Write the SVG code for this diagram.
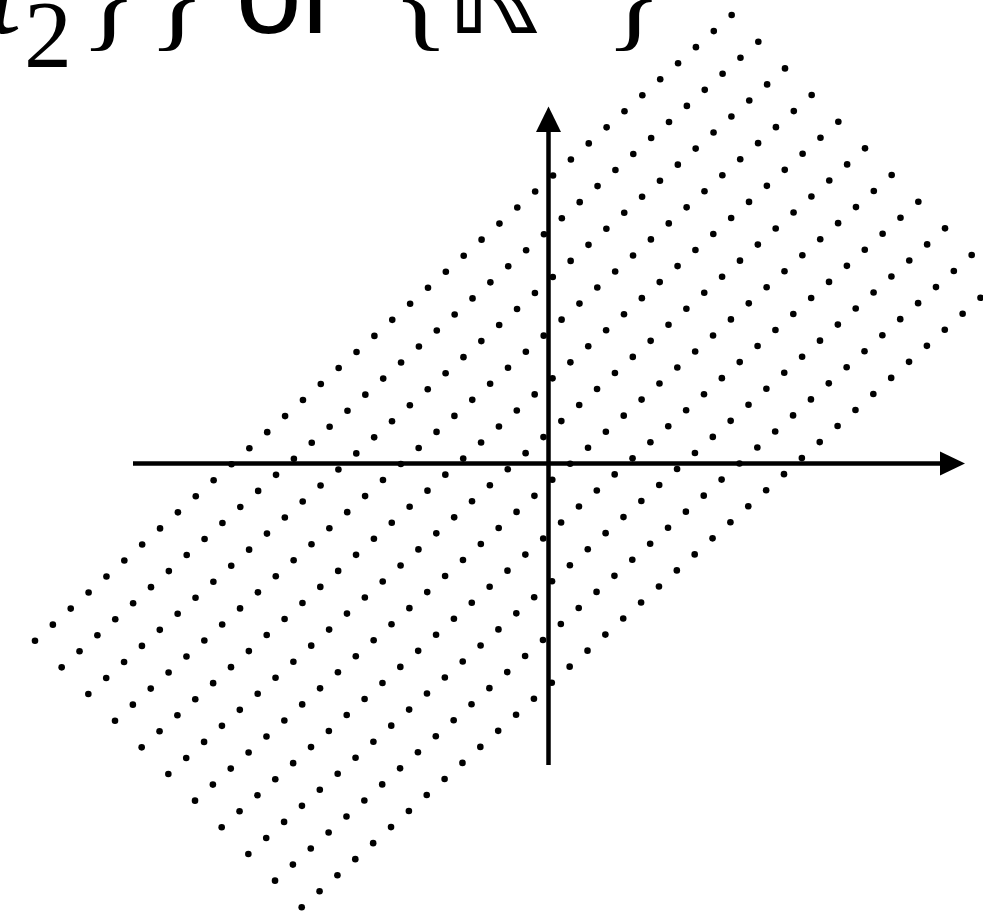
<svg xmlns="http://www.w3.org/2000/svg" xmlns:xlink="http://www.w3.org/1999/xlink" width="983" height="918" viewBox="0 0 983 918">
<style>
.axis{stroke:#000;stroke-width:4.5;fill:none}
.head{fill:#000;stroke:none}
.dot{fill:#000}
</style>
<defs>
<g id="row" class="dot">
<circle cx="35" cy="640.7" r="3.3"/><circle cx="52.86" cy="624.66" r="3.3"/><circle cx="70.73" cy="608.62" r="3.3"/><circle cx="88.59" cy="592.57" r="3.3"/><circle cx="106.45" cy="576.53" r="3.3"/><circle cx="124.32" cy="560.49" r="3.3"/><circle cx="142.18" cy="544.45" r="3.3"/><circle cx="160.04" cy="528.41" r="3.3"/><circle cx="177.9" cy="512.36" r="3.3"/><circle cx="195.77" cy="496.32" r="3.3"/><circle cx="213.63" cy="480.28" r="3.3"/><circle cx="231.49" cy="464.24" r="3.3"/><circle cx="249.36" cy="448.2" r="3.3"/><circle cx="267.22" cy="432.15" r="3.3"/><circle cx="285.08" cy="416.11" r="3.3"/><circle cx="302.95" cy="400.07" r="3.3"/><circle cx="320.81" cy="384.03" r="3.3"/><circle cx="338.67" cy="367.99" r="3.3"/><circle cx="356.53" cy="351.94" r="3.3"/><circle cx="374.4" cy="335.9" r="3.3"/><circle cx="392.26" cy="319.86" r="3.3"/><circle cx="410.12" cy="303.82" r="3.3"/><circle cx="427.99" cy="287.78" r="3.3"/><circle cx="445.85" cy="271.73" r="3.3"/><circle cx="463.71" cy="255.69" r="3.3"/><circle cx="481.58" cy="239.65" r="3.3"/><circle cx="499.44" cy="223.61" r="3.3"/><circle cx="517.3" cy="207.57" r="3.3"/><circle cx="535.16" cy="191.52" r="3.3"/><circle cx="553.03" cy="175.48" r="3.3"/><circle cx="570.89" cy="159.44" r="3.3"/><circle cx="588.75" cy="143.4" r="3.3"/><circle cx="606.62" cy="127.36" r="3.3"/><circle cx="624.48" cy="111.31" r="3.3"/><circle cx="642.34" cy="95.27" r="3.3"/><circle cx="660.21" cy="79.23" r="3.3"/><circle cx="678.07" cy="63.19" r="3.3"/><circle cx="695.93" cy="47.15" r="3.3"/><circle cx="713.79" cy="31.1" r="3.3"/><circle cx="731.66" cy="15.06" r="3.3"/>
</g>
</defs>
<g id="lattice">
<use xlink:href="#row" href="#row"/>
<use xlink:href="#row" href="#row" transform="translate(26.67 26.66)"/>
<use xlink:href="#row" href="#row" transform="translate(53.34 53.32)"/>
<use xlink:href="#row" href="#row" transform="translate(80.01 79.98)"/>
<use xlink:href="#row" href="#row" transform="translate(106.68 106.64)"/>
<use xlink:href="#row" href="#row" transform="translate(133.35 133.3)"/>
<use xlink:href="#row" href="#row" transform="translate(160.02 159.96)"/>
<use xlink:href="#row" href="#row" transform="translate(186.69 186.62)"/>
<use xlink:href="#row" href="#row" transform="translate(213.36 213.28)"/>
<use xlink:href="#row" href="#row" transform="translate(240.03 239.94)"/>
<use xlink:href="#row" href="#row" transform="translate(266.7 266.6)"/>
</g>
<g id="axes">
<line class="axis" x1="133" y1="463.5" x2="942" y2="463.5"/>
<polygon class="head" points="965,463.5 940,451.5 940,475.5"/>
<line class="axis" x1="548.5" y1="765" x2="548.5" y2="130"/>
<polygon class="head" points="548.5,106.5 536,132 561,132"/>
</g>
<g id="title" fill="#000">
<text font-family="'Liberation Serif', 'Times New Roman', serif" x="-12" y="33" font-size="120" font-style="italic">t</text>
<text font-family="'Liberation Serif', 'Times New Roman', serif" x="24" y="67" font-size="96">2</text>
<text font-family="'Liberation Serif', 'Times New Roman', serif" x="80" y="35" font-size="120">}</text>
<text font-family="'Liberation Serif', 'Times New Roman', serif" x="148" y="35" font-size="120">}</text>
<text font-family="'Liberation Sans', Arial, sans-serif" x="236" y="33" font-size="118">or</text>
<text font-family="'Liberation Serif', 'Times New Roman', serif" x="392" y="35" font-size="120">{</text>
<text font-family="'DejaVu Sans', sans-serif" x="446" y="33" font-size="118">ℝ</text>
<text font-family="'Liberation Serif', 'Times New Roman', serif" x="605" y="35" font-size="120">}</text>
</g>
</svg>
